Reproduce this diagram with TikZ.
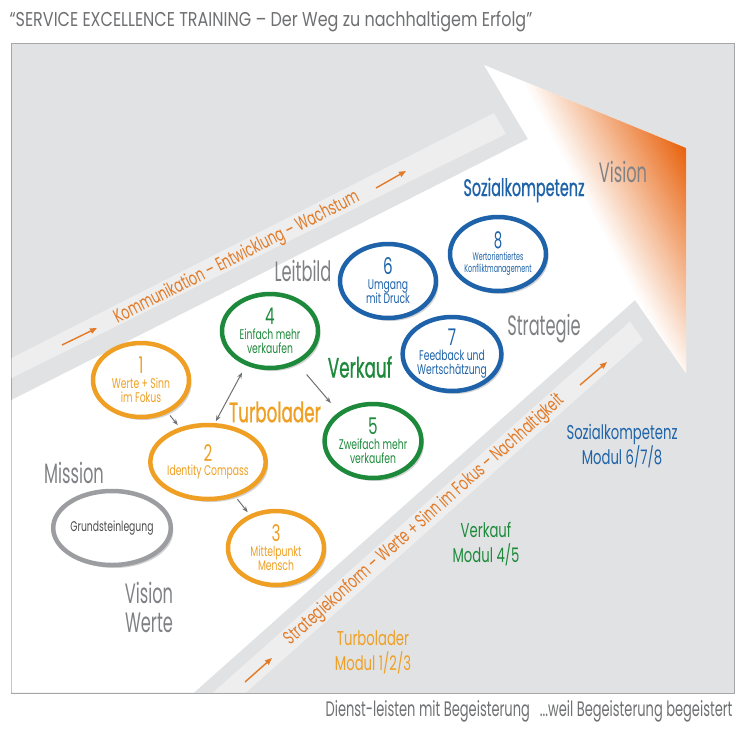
\documentclass[tikz,border=0pt]{standalone}
\usepackage{fontspec}
\setmainfont{Poppins}[FakeStretch=0.66]
\newfontfamily\condfont{Poppins}[FakeStretch=0.58]
\newfontfamily\heavyfont{Poppins}[FakeStretch=0.6, FakeBold=0.8]
\newfontfamily\titlefont{Poppins}[FakeStretch=0.8]
\newfontfamily\claimfont{Poppins}[FakeStretch=0.62]
\usetikzlibrary{shapes.geometric,shadows,arrows.meta}

\definecolor{boxgray}{HTML}{E1E2E3}
\definecolor{stripgray}{HTML}{EEEEEE}
\definecolor{labelgray}{HTML}{808184}
\definecolor{titlegray}{HTML}{6F7072}
\definecolor{turboorange}{HTML}{EFA024}
\definecolor{trackorange}{HTML}{E27A27}
\definecolor{sellgreen}{HTML}{1D8A3B}
\definecolor{socialblue}{HTML}{1E63A9}
\definecolor{visionorange}{HTML}{E8630E}
\definecolor{arrowgray}{HTML}{707173}
\definecolor{basegray}{HTML}{9C9DA0}

\begin{document}
\begin{tikzpicture}[x=1pt,y=-1pt,
  modul/.style={ellipse, draw=#1, text=#1, line width=4.5pt, fill=white,
    minimum width=96pt, minimum height=74pt, inner sep=0pt, align=center,
    font=\fontsize{14}{14.5}\selectfont,
    drop shadow={shadow xshift=2.5pt, shadow yshift=-3pt, opacity=0.25, fill=black!70}},
  bigword/.style={text=#1, font=\condfont\fontsize{28}{29}\selectfont, align=center},
  heavyword/.style={text=#1, font=\heavyfont\fontsize{28}{29}\selectfont},
  modultag/.style={text=#1, font=\fontsize{20}{25}\selectfont, align=center},
  track/.style={text=trackorange, font=\fontsize{19}{19}\selectfont},
  trackarrow/.style={trackorange, line width=1.4pt, -{Triangle[length=7pt,width=5.5pt]}},
  link/.style={arrowgray, line width=1pt, -{Stealth[length=6pt,width=4.5pt]}},
  twolink/.style={arrowgray, line width=1pt, {Stealth[length=6pt,width=4.5pt]}-{Stealth[length=6pt,width=4.5pt]}},
]
\newcommand{\nr}[1]{{\fontsize{23}{22}\selectfont #1}}
\useasboundingbox (0,0) rectangle (736,731);

\node[anchor=west, text=titlegray, font=\titlefont\fontsize{20}{24}\selectfont] (title) at (6,22) {“SERVICE EXCELLENCE TRAINING – Der Weg zu nachhaltigem Erfolg”};

\draw[black!35, fill=boxgray] (11,43) rectangle (734,693);

% light tracks beside the arrow
\fill[stripgray] (11.5,358) -- (494,113) -- (506,134) -- (11.5,378) -- cycle;
\fill[stripgray] (213,692.5) -- (630,321.5) -- (643,340) -- (246,692.5) -- cycle;

% big arrow
\fill[white] (11.5,400) -- (528,139) -- (484,65) -- (686,148) -- (686,373) -- (635,300) -- (194,692.5) -- (11.5,692.5) -- cycle;
\begin{scope}
\clip (484,65) -- (686,148) -- (686,373) -- (635,300) -- (528,139) -- cycle;
\foreach \d in {0,2,...,110} {
  \pgfmathsetmacro\pct{max(0,100*(1-\d/112))}
  \fill[visionorange!\pct!white]
    ({686-\d*0.88-180},{148+\d*0.47-338}) -- ({686-\d*0.88+180},{148+\d*0.47+338}) --
    ({686-(\d+2.6)*0.88+180},{148+(\d+2.6)*0.47+338}) -- ({686-(\d+2.6)*0.88-180},{148+(\d+2.6)*0.47-338}) -- cycle;
}
\end{scope}

\coordinate (ka) at (62,345);
\coordinate (kb) at (97,328);
\coordinate (kc) at (376,188);
\coordinate (kd) at (406,171);
\draw[trackarrow] (ka) -- (kb);
\draw[trackarrow] (kc) -- (kd);
\node[track, rotate=26.8] (komm) at (237,258) {Kommunikation – Entwicklung – Wachstum};

\coordinate (sa) at (245,682);
\coordinate (sb) at (272,658);
\coordinate (sc) at (580,385);
\coordinate (sd) at (607,362);
\draw[trackarrow] (sa) -- (sb);
\draw[trackarrow] (sc) -- (sd);
\node[track, rotate=41.6] (strat) at (425,520) {Strategiekonform – Werte + Sinn im Fokus – Nachhaltigkeit};

\node[modul=basegray, text=black!70] (e0) at (112,528) {Grundsteinlegung};
\node[modul=turboorange] (e1) at (141,380) {\nr{1}\\Werte + Sinn\\im Fokus};
\node[modul=turboorange] (e2) at (208,462) {\nr{2}\\Identity Compass};
\node[modul=turboorange] (e3) at (276,548) {\nr{3}\\Mittelpunkt\\Mensch};
\node[modul=sellgreen] (e4) at (270,331) {\nr{4}\\Einfach mehr\\verkaufen};
\node[modul=sellgreen] (e5) at (373,441) {\nr{5}\\Zweifach mehr\\verkaufen};
\node[modul=socialblue] (e6) at (388,281) {\nr{6}\\Umgang\\mit Druck};
\node[modul=socialblue] (e7) at (452,354) {\nr{7}\\Feedback und\\Wertschätzung};
\node[modul=socialblue, font=\condfont\fontsize{11}{12}\selectfont] (e8) at (498,254) {\nr{8}\\Wertorientiertes\\Konfliktmanagement};

\draw[link, shorten <=3pt, shorten >=3pt] (e1) -- (e2);
\draw[link, shorten <=3pt, shorten >=3pt] (e2) -- (e3);
\draw[twolink, shorten <=2pt, shorten >=8pt] (e2.80) -- (e4.235);
\draw[link, shorten <=14pt, shorten >=12pt] (e4.-50) -- (e5.140);

\node[bigword=labelgray] (vision) at (623,172) {Vision};
\node[heavyword=socialblue, font=\heavyfont\fontsize{24}{26}\selectfont] (sozial) at (524,190) {Sozialkompetenz};
\node[bigword=labelgray] (leitbild) at (303,271) {Leitbild};
\node[bigword=labelgray] (strategie) at (544,329) {Strategie};
\node[heavyword=sellgreen] (verkauf) at (360,367) {Verkauf};
\node[heavyword=turboorange] (turbo) at (275,412) {Turbolader};
\node[bigword=labelgray] (mission) at (74,473) {Mission};
\node[bigword=labelgray] (werte) at (149,607) {Vision\\Werte};

\node[modultag=socialblue] (m678) at (622,446) {Sozialkompetenz\\Modul 6/7/8};
\node[modultag=sellgreen] (m45) at (486,544) {Verkauf\\Modul 4/5};
\node[modultag=turboorange] (m123) at (373,652) {Turbolader\\Modul 1/2/3};

\node[anchor=east, text=titlegray, font=\claimfont\fontsize{21}{24}\selectfont] (claim) at (736,711) {Dienst-leisten mit Begeisterung\hspace{10pt}...weil Begeisterung begeistert};

\end{tikzpicture}
\end{document}
